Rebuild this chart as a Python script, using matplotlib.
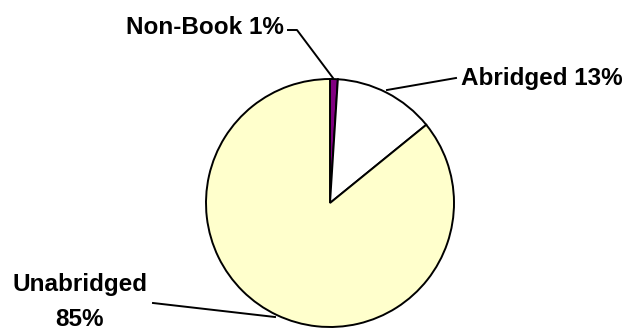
import matplotlib
matplotlib.use("Agg")
import matplotlib.pyplot as plt

categories = ["Non-Book", "Abridged", "Unabridged"]
values = [1, 13, 85]
colors = ["#800080", "#FFFFFF", "#FFFFCC"]

W, H = 629, 331
fig = plt.figure(figsize=(W / 100, H / 100), dpi=100)
ax = fig.add_axes([0, 0, 1, 1])

def py(y):
    return H - y

cx, cy, r = 330, py(203), 124
ax.pie(values, colors=colors, startangle=90, counterclock=False,
       center=(cx, cy), radius=r,
       wedgeprops=dict(edgecolor="black", linewidth=1.4), frame=True)
ax.set_xlim(0, W)
ax.set_ylim(0, H)
ax.set_aspect("auto")
ax.axis("off")

font = dict(family=["Liberation Sans", "DejaVu Sans"], fontweight="bold",
            fontsize=17.5, color="black")
lw = 1.4

# Non-Book
ax.plot([288, 297, 333], [py(30), py(30), py(78)], color="black", lw=lw)
ax.text(284, py(28), f"{categories[0]} {values[0]}%", ha="right", va="center", **font)
# Abridged
ax.plot([387, 456], [py(90), py(78)], color="black", lw=lw)
ax.text(461, py(79), f"{categories[1]} {values[1]}%", ha="left", va="center", **font)
# Unabridged
ax.plot([153, 275], [py(303), py(317)], color="black", lw=lw)
ax.text(80, py(284), categories[2], ha="center", va="center", **font)
ax.text(80, py(319), f"{values[2]}%", ha="center", va="center", **font)

fig.savefig("out.png", dpi=100)
